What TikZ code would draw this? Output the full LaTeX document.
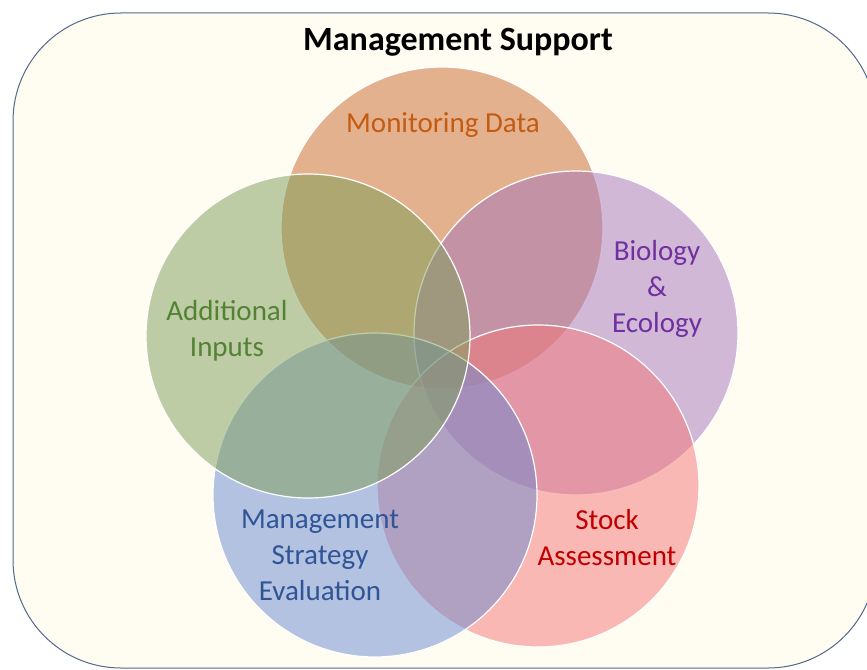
\documentclass[tikz,border=0pt]{standalone}
\usepackage{fontspec}
\setmainfont{Carlito}
\definecolor{bgcream}{RGB}{255,252,242}
\definecolor{frameblue}{RGB}{84,104,140}
\definecolor{corange}{RGB}{201,104,44}
\definecolor{cgreen}{RGB}{125,158,88}
\definecolor{cpurple}{RGB}{165,118,188}
\definecolor{cblue}{RGB}{105,138,208}
\definecolor{cred}{RGB}{245,118,118}
\definecolor{torange}{RGB}{197,90,17}
\definecolor{tgreen}{RGB}{84,130,53}
\definecolor{tpurple}{RGB}{112,48,160}
\definecolor{tblue}{RGB}{47,85,151}
\definecolor{tred}{RGB}{192,0,0}
\tikzset{
  venn/.style={circle, draw=white, line width=1.2pt, fill opacity=0.5, draw opacity=1, inner sep=0pt},
  lbl/.style={font=\fontsize{29}{36}\selectfont, align=center, inner sep=0pt},
}
\begin{document}
\begin{tikzpicture}[x=1pt,y=-1pt]
\useasboundingbox (0,0) rectangle (867,669);
\draw[frameblue, fill=bgcream, line width=1pt, rounded corners=108pt] (13,13) rectangle (876,668);
\node[font=\fontsize{34}{40}\selectfont\bfseries, inner sep=0pt] (title) at (458,42) {Management Support};
\node[venn, fill=corange, minimum size=322pt] (mon) at (442,228) {};
\node[venn, fill=cpurple, minimum size=324pt] (bio) at (576,333) {};
\node[venn, fill=cred, minimum size=322pt] (stock) at (538,486) {};
\node[venn, fill=cblue, minimum size=324pt] (mse) at (375,495) {};
\node[venn, fill=cgreen, minimum size=324pt] (add) at (308,336) {};
\node[lbl, text=torange] (tmon) at (443,125) {Monitoring Data};
\node[lbl, text=tpurple] (tbio) at (657,289) {Biology\\\&\\Ecology};
\node[lbl, text=tgreen] (tadd) at (227,331) {Additional\\Inputs};
\node[lbl, text=tblue] (tmse) at (320,555) {Management\\Strategy\\Evaluation};
\node[lbl, text=tred] (tstock) at (607,538) {Stock\\Assessment};
\end{tikzpicture}
\end{document}
